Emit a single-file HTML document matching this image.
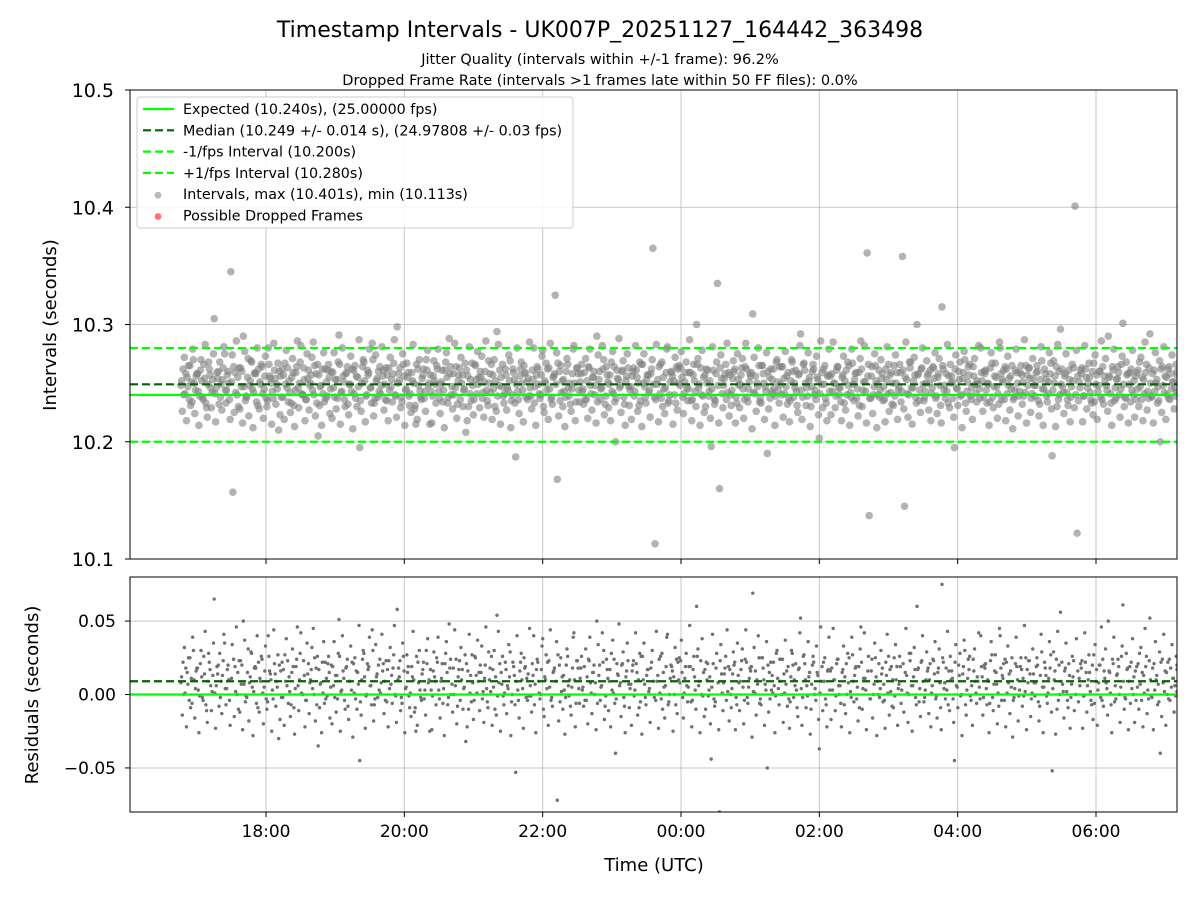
<!DOCTYPE html>
<html><head><meta charset="utf-8">
<style>
html,body{margin:0;padding:0;background:#fff;}
svg{display:block;font-family:"Liberation Sans","DejaVu Sans",sans-serif;}
</style></head>
<body>
<svg id="chart" width="1200" height="900" viewBox="0 0 1200 900" xmlns="http://www.w3.org/2000/svg">
<rect width="1200" height="900" fill="#fff"/>
<text x="600" y="37" font-size="22" text-anchor="middle" font-family="DejaVu Sans, sans-serif">Timestamp Intervals - UK007P_20251127_164442_363498</text>
<text x="600" y="64" font-size="14.5" text-anchor="middle" font-family="DejaVu Sans, sans-serif">Jitter Quality (intervals within +/-1 frame): 96.2%</text>
<text x="600" y="85" font-size="14.5" text-anchor="middle" font-family="DejaVu Sans, sans-serif">Dropped Frame Rate (intervals &gt;1 frames late within 50 FF files): 0.0%</text>
<g id="topPanel"></g>
<g id="botPanel"></g>
</svg>
<script>
const intervalsMs = [
248,262,241,255,236,251,270,244,258,239,252,266,233,249,257,242,305,246,260,238,253,275,244,250,
345,157,259,240,263,247,290,235,255,248,268,242,258,231,251,264,245,237,280,254,243,261,249,210,
256,238,267,246,252,233,259,244,286,250,241,263,236,254,248,272,240,258,205,247,262,234,251,266,
245,259,238,253,291,242,256,230,264,249,243,261,237,255,195,250,268,239,257,246,284,233,252,260,
241,256,249,235,263,247,258,240,298,252,238,266,244,255,231,259,250,215,262,243,254,237,270,248,
257,239,252,265,243,249,234,261,255,288,240,258,246,232,263,250,244,208,256,241,267,236,253,249,
260,237,251,244,269,242,257,230,294,248,255,239,262,246,252,235,259,187,243,256,250,265,238,254,
246,261,233,257,249,240,278,252,244,263,236,255,325,168,260,242,253,238,266,250,245,282,234,258,
251,243,259,236,264,248,255,240,290,253,245,262,232,257,249,268,241,200,254,246,260,238,252,263,
244,256,239,261,250,235,266,247,253,242,258,365,113,249,264,237,255,246,281,240,259,252,233,262,
248,255,241,268,245,259,236,252,300,246,263,239,257,250,243,196,261,235,335,160,254,248,266,242,
257,244,260,238,253,249,271,236,262,245,256,309,241,250,265,233,258,247,190,255,243,262,239,251,
264,240,254,247,259,235,268,250,243,257,292,238,261,246,252,230,266,244,255,203,249,262,237,256,
243,258,250,239,264,246,255,233,261,248,242,267,253,237,259,286,244,251,361,137,256,240,265,249,
238,254,247,262,241,257,232,265,250,244,259,358,145,253,240,268,246,257,300,235,262,249,243,256,
250,241,263,237,255,248,315,244,258,233,266,251,195,246,260,239,254,270,243,257,236,264,249,252,
245,259,238,261,250,234,267,247,255,241,280,253,236,262,248,256,211,244,259,239,265,251,242,257,
263,237,254,248,260,232,269,245,253,241,258,188,250,264,236,296,247,256,242,261,238,252,401,122,
251,258,239,262,246,255,233,267,249,243,260,236,256,248,290,241,264,235,253,259,245,301,238,257,
249,262,240,256,245,268,236,253,259,243,292,238,261,250,247,200,264,242,255,237,258,251,246,260];
const intervalsMs2 = [
252,240,258,247,265,234,250,256,243,261,238,254,229,268,246,253,241,259,232,249,263,244,257,236,
251,264,242,255,228,260,247,239,271,252,245,258,234,262,249,241,256,230,266,250,237,254,245,260,
238,257,249,263,242,255,231,259,246,268,240,253,236,261,250,244,265,233,257,248,241,262,239,255,
260,246,253,237,266,243,251,258,232,249,262,241,256,247,235,264,252,240,259,246,270,237,254,243,
248,261,236,257,244,253,267,239,250,263,234,256,245,259,241,252,228,266,248,238,257,243,261,250,
243,256,249,262,237,251,244,268,233,258,247,240,264,252,236,257,245,261,230,253,248,266,241,255,
255,242,260,235,250,266,245,252,239,261,247,233,257,244,269,240,253,249,236,262,244,258,251,239,
239,253,247,264,241,257,230,250,262,245,238,256,249,267,235,252,243,260,246,232,258,250,263,244,
258,245,236,252,263,241,255,248,234,260,246,270,239,251,257,243,264,237,253,248,261,232,256,247,
247,260,243,255,231,266,250,238,257,244,262,249,236,253,241,268,245,259,233,251,256,240,264,250,
263,238,251,246,259,235,257,243,266,249,240,255,230,261,252,245,237,258,248,263,241,254,236,259,
240,254,262,233,248,257,245,264,238,251,259,242,256,247,234,265,250,243,260,237,253,246,268,244,
249,264,241,256,237,252,260,246,231,258,244,266,250,239,255,247,262,236,253,241,259,249,233,257,
256,243,250,261,246,234,257,252,240,265,238,249,258,245,231,262,251,243,256,237,264,247,252,240,
244,258,236,253,266,242,250,239,259,247,234,261,255,241,268,246,252,238,257,244,263,235,250,258,
261,246,254,239,258,231,265,248,243,256,250,237,262,245,253,240,259,233,251,266,246,256,241,249,
237,252,260,244,249,263,238,256,247,232,258,251,264,241,254,245,236,261,250,243,257,239,265,248,
254,241,248,259,235,253,245,262,239,251,267,244,256,230,260,249,242,258,236,253,247,263,240,256,
246,263,239,255,250,242,260,234,257,248,238,264,251,244,256,233,261,246,254,240,266,249,237,258,
259,244,252,236,261,247,255,241,266,237,250,258,243,253,235,262,248,256,240,264,245,251,239,257];
const intervalsMs3 = [
226,272,218,265,231,279,224,258,214,270,236,283,221,262,229,275,217,254,268,227,281,233,260,219,
274,225,286,230,263,216,277,238,222,269,212,259,280,228,266,220,273,235,256,215,284,232,267,223,
262,219,278,234,225,271,213,264,229,282,240,218,275,227,257,285,222,266,231,214,276,237,261,224,
220,276,228,268,215,280,236,259,223,273,211,265,230,287,226,270,217,261,279,233,222,274,238,264,
281,227,263,218,272,234,287,221,258,229,275,214,267,239,225,283,231,219,270,236,262,226,278,215,
216,269,233,279,224,261,212,276,238,264,228,284,220,257,272,230,267,218,281,235,223,265,277,229,
273,221,286,231,258,219,270,226,283,215,266,241,227,274,212,262,233,280,224,268,217,259,236,285,
228,280,214,262,237,273,225,267,219,284,232,258,276,222,265,230,213,271,239,226,279,218,263,234,
266,232,271,220,279,227,260,216,274,236,282,223,264,229,218,277,234,261,288,225,269,214,275,231,
219,263,282,226,268,213,275,233,257,221,270,238,283,217,266,230,224,279,235,260,215,272,227,265,
277,224,259,235,287,218,266,230,271,214,278,225,262,239,220,281,232,268,216,274,229,258,284,222,
231,269,216,275,229,263,220,284,234,258,211,272,226,280,237,265,219,276,228,262,241,214,270,233,
264,221,277,232,217,270,238,261,225,282,219,267,231,276,213,260,240,273,223,286,229,265,218,279,
223,285,229,264,240,218,273,227,268,214,279,235,259,222,271,230,282,216,266,237,224,275,212,261,
270,235,217,281,226,259,231,274,219,266,243,228,285,221,263,215,272,233,258,225,280,238,269,227,
218,264,276,224,271,216,262,237,283,229,256,221,274,231,268,212,277,226,264,239,219,271,234,282,
280,226,258,233,214,276,229,267,220,285,236,261,218,273,227,265,238,279,222,259,232,287,216,263,
225,271,239,265,222,281,214,258,234,276,228,269,213,283,240,262,224,275,231,217,266,229,278,235,
261,217,282,228,267,236,223,274,219,260,286,232,271,226,255,214,279,237,264,221,273,230,268,216,
234,278,221,259,230,272,218,285,227,263,239,216,276,233,269,225,281,219,262,236,274,228,266,242];
const startHour = 16.77;
const endHour = 31.17;
const expected = 10.240;
const median = 10.249;
const lowLimit = 10.200;
const highLimit = 10.280;
const topTicks = [10.1, 10.2, 10.3, 10.4, 10.5];
const botTicks = [-0.05, 0.00, 0.05];
const botTickLabels = ["\u22120.05", "0.00", "0.05"];
const xTickHours = [18, 20, 22, 24, 26, 28, 30];
const xTickLabels = ["18:00","20:00","22:00","00:00","02:00","04:00","06:00"];

const NS="http://www.w3.org/2000/svg";
const L=130,R=1177;
const T1=90,B1=559,T2=577,B2=812;
const xs=h=>266+(h-18)*(1096-266)/12;
const y1=v=>559-(v-10.1)*(559-90)/0.4;
const y2=v=>694.5-v*(117.5/0.08);
function mk(p,tag,a){const e=document.createElementNS(NS,tag);for(const k in a)e.setAttribute(k,a[k]);p.appendChild(e);return e;}
const topG=document.getElementById('topPanel'),botG=document.getElementById('botPanel');
const defs=mk(document.getElementById('chart'),'defs',{});
const c1=mk(defs,'clipPath',{id:'c1'});mk(c1,'rect',{x:L,y:T1,width:R-L,height:B1-T1});
const c2=mk(defs,'clipPath',{id:'c2'});mk(c2,'rect',{x:L,y:T2,width:R-L,height:B2-T2});

xTickHours.forEach(h=>{
  let g=mk(topG,'line',{x1:xs(h),x2:xs(h),y1:T1,y2:B1,stroke:'#b0b0b0','stroke-width':1,opacity:0.7});
  
  g=mk(botG,'line',{x1:xs(h),x2:xs(h),y1:T2,y2:B2,stroke:'#b0b0b0','stroke-width':1,opacity:0.7});
  
});
topTicks.forEach(v=>{
  const g=mk(topG,'line',{x1:L,x2:R,y1:y1(v),y2:y1(v),stroke:'#b0b0b0','stroke-width':1,opacity:0.7});
  
  const t=mk(topG,'text',{x:L-16,y:y1(v)+7,'font-size':19,'text-anchor':'end','font-family':'DejaVu Sans, sans-serif'});
  t.textContent=v.toFixed(1);
  
  mk(topG,'line',{x1:L-5,x2:L,y1:y1(v),y2:y1(v),stroke:'#000'});
});
botTicks.forEach((v,i)=>{
  const g=mk(botG,'line',{x1:L,x2:R,y1:y2(v),y2:y2(v),stroke:'#b0b0b0','stroke-width':1,opacity:0.7});
  
  const t=mk(botG,'text',{x:L-14,y:y2(v)+6,'font-size':17,'text-anchor':'end','font-family':'DejaVu Sans, sans-serif'});
  t.textContent=botTickLabels[i];
  
  mk(botG,'line',{x1:L-5,x2:L,y1:y2(v),y2:y2(v),stroke:'#000'});
});
xTickHours.forEach((h,i)=>{
  mk(topG,'line',{x1:xs(h),x2:xs(h),y1:B1,y2:B1+5,stroke:'#000'});
  mk(botG,'line',{x1:xs(h),x2:xs(h),y1:B2,y2:B2+5,stroke:'#000'});
  const t=mk(botG,'text',{x:xs(h),y:B2+25,'font-size':17,'text-anchor':'middle','font-family':'DejaVu Sans, sans-serif'});
  t.textContent=xTickLabels[i];
  
});

const pg1=mk(topG,'g',{'clip-path':'url(#c1)'});
const pg2=mk(botG,'g',{'clip-path':'url(#c2)'});
function drawSeries(arr,offset){
  const n=arr.length;
  arr.forEach((ms,i)=>{
    const h=startHour+(endHour-startHour)*Math.min(i+offset,n-1)/(n-1);
    const v=10+ms/1000;
    const c=mk(pg1,'circle',{cx:xs(h),cy:y1(v),r:3.8,fill:'#808080','fill-opacity':0.6});
    
    
    const d=mk(pg2,'circle',{cx:xs(h),cy:y2(v-expected),r:1.7,fill:'#707070'});
    
    
  });
}
drawSeries(intervalsMs,0);
drawSeries(intervalsMs2,0.33);
drawSeries(intervalsMs3,0.66);

function hline(p,y,col,dash,name){const e=mk(p,'line',{x1:L,x2:R,y1:y,y2:y,stroke:col,'stroke-width':2.2});if(dash)e.setAttribute('stroke-dasharray','8,4');}
hline(topG,y1(expected),'#00ff00',false,'expected-line');
hline(topG,y1(median),'#006400',true,'median-line');
hline(topG,y1(lowLimit),'#00ff00',true,'minus-fps-line');
hline(topG,y1(highLimit),'#00ff00',true,'plus-fps-line');
hline(botG,y2(0),'#00ff00',false,'zero-residual-line');
hline(botG,y2(median-expected),'#006400',true,'median-residual-line');

mk(topG,'rect',{x:L,y:T1,width:R-L,height:B1-T1,fill:'none',stroke:'#000','stroke-width':1});
mk(botG,'rect',{x:L,y:T2,width:R-L,height:B2-T2,fill:'none',stroke:'#000','stroke-width':1});

let t=mk(topG,'text',{x:0,y:0,'font-size':18,'text-anchor':'middle','font-family':'DejaVu Sans, sans-serif',transform:'translate(56,325) rotate(-90)'});
t.textContent='Intervals (seconds)';
t=mk(botG,'text',{x:0,y:0,'font-size':18,'text-anchor':'middle','font-family':'DejaVu Sans, sans-serif',transform:'translate(38,695) rotate(-90)'});
t.textContent='Residuals (seconds)';
t=mk(botG,'text',{x:654,y:871,'font-size':18,'text-anchor':'middle','font-family':'DejaVu Sans, sans-serif'});
t.textContent='Time (UTC)';

const lg=mk(topG,'g',{});


mk(lg,'rect',{x:137,y:97,width:436,height:131,rx:3,fill:'#fff','fill-opacity':0.85,stroke:'#ccc'});
const items=[
 ['line','#00ff00',false,'Expected (10.240s), (25.00000 fps)'],
 ['line','#006400',true,'Median (10.249 +/- 0.014 s), (24.97808 +/- 0.03 fps)'],
 ['line','#00ff00',true,'-1/fps Interval (10.200s)'],
 ['line','#00ff00',true,'+1/fps Interval (10.280s)'],
 ['dot','#808080',false,'Intervals, max (10.401s), min (10.113s)'],
 ['dot','#ff0000',false,'Possible Dropped Frames']];
items.forEach((it,i)=>{
  const y=109+i*21.3;
  if(it[0]==='line'){const e=mk(lg,'line',{x1:143,x2:174,y1:y,y2:y,stroke:it[1],'stroke-width':2.2});if(it[2])e.setAttribute('stroke-dasharray','8,4');}
  else mk(lg,'circle',{cx:158,cy:y+1,r:3.4,fill:it[1],'fill-opacity':0.55});
  const tx=mk(lg,'text',{x:183,y:y+5,'font-size':14.3,'font-family':'DejaVu Sans, sans-serif'});
  tx.textContent=it[3];
  
  
});
</script>
</body></html>
